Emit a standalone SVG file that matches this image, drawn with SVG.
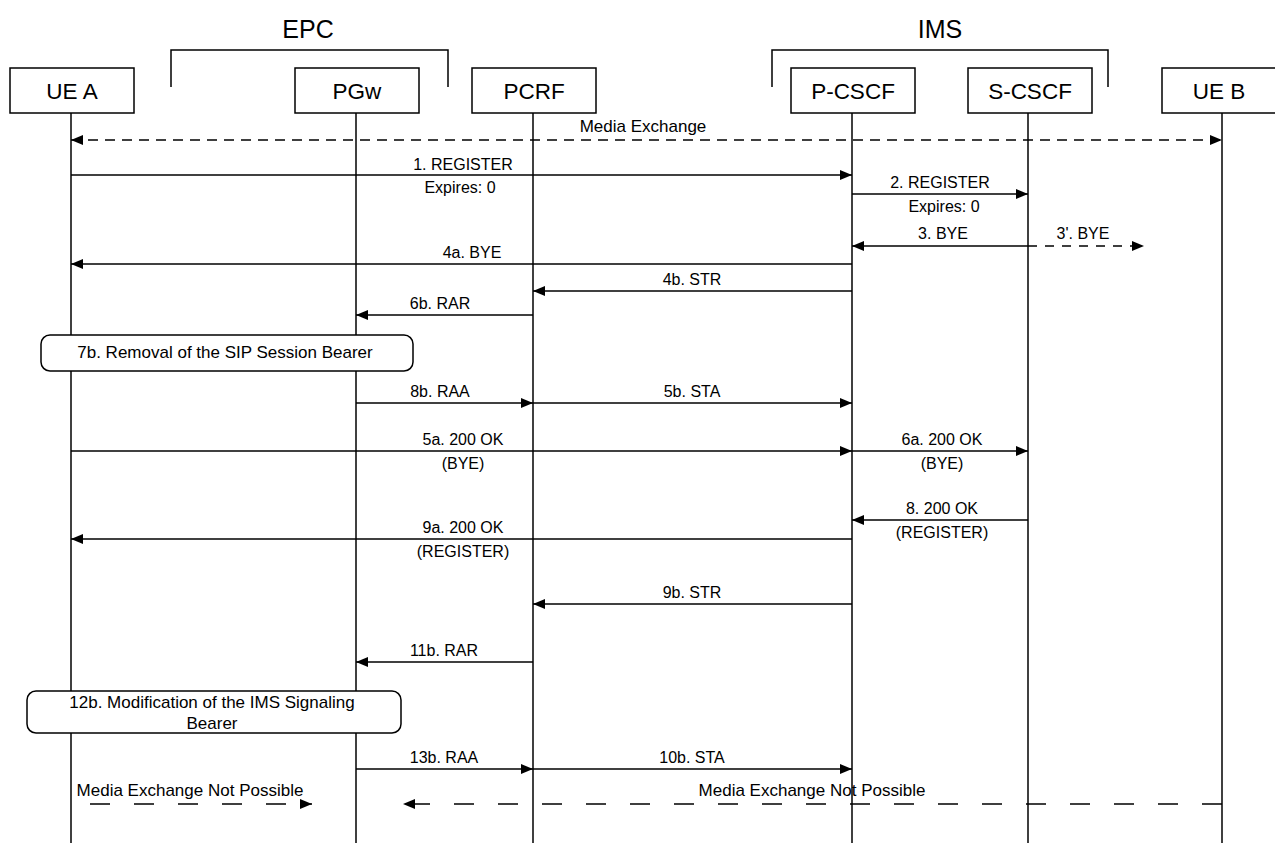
<svg xmlns="http://www.w3.org/2000/svg" width="1275" height="843" viewBox="0 0 1275 843">
<defs>
<marker id="ah" viewBox="0 0 12 10" refX="12" refY="5" markerWidth="12" markerHeight="10" markerUnits="userSpaceOnUse" orient="auto-start-reverse">
<path d="M0,0 L12,5 L0,10 Z" fill="#000"/>
</marker>
</defs>
<style>
.box{fill:#fff;stroke:#000;stroke-width:1.5}
.life{stroke:#000;stroke-width:1.5}
.name{font-family:"Liberation Sans",Arial,sans-serif;font-size:22.5px;text-anchor:middle;fill:#000}
.grp{font-family:"Liberation Sans",Arial,sans-serif;font-size:25px;text-anchor:middle;fill:#000}
.lbl{font-family:"Liberation Sans",Arial,sans-serif;font-size:16px;text-anchor:middle;fill:#000}
.big{font-family:"Liberation Sans",Arial,sans-serif;font-size:17px;text-anchor:middle;fill:#000}
.msg{stroke:#000;stroke-width:1.5;fill:none;marker-end:url(#ah)}
.d1{stroke-dasharray:10 7}
.d2{stroke-dasharray:9 8}
.d3{stroke-dasharray:20 24;stroke-dashoffset:-19}
.d4{stroke-dasharray:20 24}
.brk{fill:none;stroke:#000;stroke-width:1.5}
.note{fill:#fff;stroke:#000;stroke-width:1.5}
</style>
<rect width="1275" height="843" fill="#fff"/>
<g id="groups">
<text class="grp" x="308" y="38">EPC</text>
<path class="brk" d="M171,87 V50 H448 V87"/>
<text class="grp" x="940" y="38">IMS</text>
<path class="brk" d="M772,87 V50 H1108 V87"/>
</g>
<g id="lifelines">
<line class="life" x1="71" y1="113" x2="71" y2="843"/>
<line class="life" x1="356" y1="113" x2="356" y2="843"/>
<line class="life" x1="533" y1="113" x2="533" y2="843"/>
<line class="life" x1="852" y1="113" x2="852" y2="843"/>
<line class="life" x1="1028" y1="113" x2="1028" y2="843"/>
<line class="life" x1="1222" y1="113" x2="1222" y2="843"/>
</g>
<g id="ue-a"><rect class="box" x="10" y="68" width="124" height="45"/><text class="name" x="72" y="99">UE A</text></g>
<g id="pgw"><rect class="box" x="295" y="68" width="124" height="45"/><text class="name" x="357" y="99">PGw</text></g>
<g id="pcrf"><rect class="box" x="472" y="68" width="124" height="45"/><text class="name" x="534" y="99">PCRF</text></g>
<g id="p-cscf"><rect class="box" x="791" y="68" width="124" height="45"/><text class="name" x="853" y="99">P-CSCF</text></g>
<g id="s-cscf"><rect class="box" x="968" y="68" width="124" height="45"/><text class="name" x="1030" y="99">S-CSCF</text></g>
<g id="ue-b"><rect class="box" x="1162" y="68" width="124" height="45"/><text class="name" x="1219" y="99">UE B</text></g>
<g id="note-7b"><rect class="note" x="41" y="335" width="372" height="36" rx="9"/><text class="big" x="225" y="358">7b. Removal of the SIP Session Bearer</text></g>
<g id="note-12b"><rect class="note" x="27" y="691" width="374" height="42" rx="9"/><text class="big" x="212" y="708">12b. Modification of the IMS Signaling</text><text class="big" x="212" y="729">Bearer</text></g>
<g id="connectors">
<line class="msg d1" x1="71" y1="140" x2="1222" y2="140" marker-start="url(#ah)"/>
<line class="msg" x1="71" y1="175" x2="852" y2="175"/>
<line class="msg" x1="852" y1="194" x2="1028" y2="194"/>
<line class="msg" x1="1028" y1="246" x2="852" y2="246"/>
<line class="msg d2" x1="1028" y1="246" x2="1144" y2="246"/>
<line class="msg" x1="852" y1="264" x2="71" y2="264"/>
<line class="msg" x1="852" y1="291" x2="533" y2="291"/>
<line class="msg" x1="533" y1="315" x2="356" y2="315"/>
<line class="msg" x1="356" y1="403" x2="533" y2="403"/>
<line class="msg" x1="533" y1="403" x2="852" y2="403"/>
<line class="msg" x1="71" y1="451" x2="852" y2="451"/>
<line class="msg" x1="852" y1="451" x2="1028" y2="451"/>
<line class="msg" x1="1028" y1="520" x2="852" y2="520"/>
<line class="msg" x1="852" y1="539" x2="71" y2="539"/>
<line class="msg" x1="852" y1="604" x2="533" y2="604"/>
<line class="msg" x1="533" y1="662" x2="356" y2="662"/>
<line class="msg" x1="356" y1="769" x2="533" y2="769"/>
<line class="msg" x1="533" y1="769" x2="852" y2="769"/>
<line class="msg d3" x1="71" y1="804" x2="312" y2="804"/>
<line class="msg d4" x1="1222" y1="804" x2="403" y2="804"/>
</g>
<g id="labels">
<text class="big" x="643" y="132">Media Exchange</text>
<text class="lbl" x="463" y="170">1. REGISTER</text>
<text class="lbl" x="460" y="193">Expires: 0</text>
<text class="lbl" x="940" y="188">2. REGISTER</text>
<text class="lbl" x="944" y="212">Expires: 0</text>
<text class="lbl" x="943" y="239">3. BYE</text>
<text class="lbl" x="1083" y="239">3'. BYE</text>
<text class="lbl" x="472" y="258">4a. BYE</text>
<text class="lbl" x="692" y="285">4b. STR</text>
<text class="lbl" x="440" y="309">6b. RAR</text>
<text class="lbl" x="440" y="397">8b. RAA</text>
<text class="lbl" x="692" y="397">5b. STA</text>
<text class="lbl" x="463" y="445">5a. 200 OK</text>
<text class="lbl" x="463" y="469">(BYE)</text>
<text class="lbl" x="942" y="445">6a. 200 OK</text>
<text class="lbl" x="942" y="469">(BYE)</text>
<text class="lbl" x="942" y="514">8. 200 OK</text>
<text class="lbl" x="942" y="538">(REGISTER)</text>
<text class="lbl" x="463" y="533">9a. 200 OK</text>
<text class="lbl" x="463" y="557">(REGISTER)</text>
<text class="lbl" x="692" y="598">9b. STR</text>
<text class="lbl" x="444" y="656">11b. RAR</text>
<text class="lbl" x="444" y="763">13b. RAA</text>
<text class="lbl" x="692" y="763">10b. STA</text>
<text class="big" x="190" y="796">Media Exchange Not Possible</text>
<text class="big" x="812" y="796">Media Exchange Not Possible</text>
</g>
</svg>
